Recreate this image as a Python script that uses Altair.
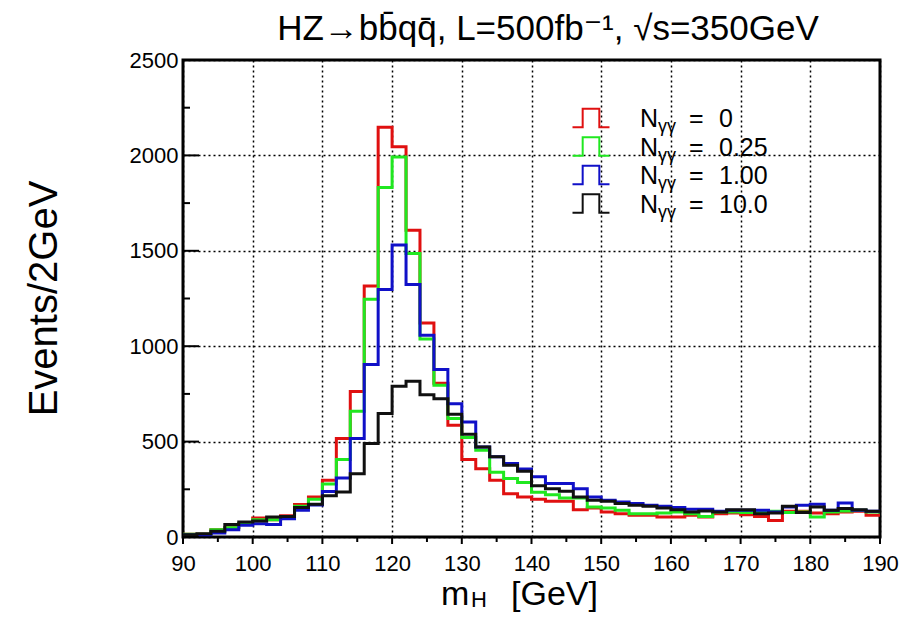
import altair as alt
import pandas as pd

# ---------------- data (Events / 2 GeV, bins of 2 GeV from 90 to 190) ----------------
BIN_LOW = list(range(90, 190, 2))
UPPER_EDGE = 190

N_0 = [14, 14, 38, 49, 70, 100, 91, 112, 170, 210, 297, 516, 762, 1316, 2148, 2045, 1608, 1122, 806, 586,
       406, 358, 297, 227, 210, 198, 187, 187, 143, 152, 131, 122, 114, 114, 105, 105, 114, 105, 122, 126,
       117, 108, 87, 135, 135, 126, 122, 131, 135, 114]
N_025 = [14, 14, 38, 49, 70, 91, 91, 108, 161, 198, 278, 406, 659, 1246, 1832, 1992, 1486, 1038, 795, 621,
         521, 455, 339, 306, 285, 235, 222, 205, 205, 157, 152, 140, 122, 122, 126, 131, 122, 108, 131, 131,
         128, 128, 135, 128, 131, 105, 131, 136, 140, 131]
N_100 = [10, 12, 21, 38, 61, 70, 65, 96, 140, 168, 238, 309, 516, 904, 1297, 1530, 1323, 1058, 878, 699,
         603, 472, 420, 385, 356, 316, 280, 280, 253, 210, 192, 184, 175, 166, 161, 154, 145, 145, 135, 140,
         140, 140, 131, 157, 166, 171, 140, 178, 140, 135]
N_100x = [12, 17, 30, 66, 79, 84, 105, 108, 154, 172, 216, 236, 332, 490, 647, 790, 816, 745, 725, 643,
          538, 472, 420, 376, 345, 268, 253, 240, 210, 192, 187, 175, 166, 161, 152, 143, 131, 136, 131, 143,
          143, 122, 126, 161, 128, 157, 140, 149, 143, 135]

SERIES_LABELS = ["0", "0.25", "1.00", "10.0"]
SERIES_VALUES = [N_0, N_025, N_100, N_100x]
SERIES_COLORS = ["#e01010", "#20e820", "#1010c8", "#101010"]

X_LABEL_VALUES = [90, 100, 110, 120, 130, 140, 150, 160, 170, 180, 190]
X_TICKS_MINOR = [95, 105, 115, 125, 135, 145, 155, 165, 175, 185]
Y_LABEL_VALUES = [0, 500, 1000, 1500, 2000, 2500]
Y_TICKS_MINOR = [250, 750, 1250, 1750, 2250]

TITLE = "HZ\u2192bb\u0304qq\u0304, L=500fb\u207b\u00b9, \u221as=350GeV"

W, H = 697, 477
FONT = "Liberation Sans"

xs = alt.Scale(domain=[90, 190], nice=False, zero=False)
ys = alt.Scale(domain=[0, 2500], nice=False)
AX_X = alt.Axis(values=X_LABEL_VALUES, grid=True, title=None, labelPadding=16, format="d",
                labelFlush=False, labelOverlap=False)
AX_Y = alt.Axis(values=Y_LABEL_VALUES, grid=True, title=None, labelPadding=5, format="d",
                labelFlush=False, labelOverlap=False)


def X(f):
    return alt.X(f, scale=xs, axis=AX_X)


def Y(f):
    return alt.Y(f, scale=ys, axis=AX_Y)


layers = []

# histograms as steps
for vals, col in zip(SERIES_VALUES, SERIES_COLORS):
    df = pd.DataFrame({"m": BIN_LOW + [UPPER_EDGE], "n": vals + [vals[-1]]})
    layers.append(
        alt.Chart(df).mark_line(interpolate="step-after", color=col, strokeWidth=3).encode(
            x=X("m:Q"), y=Y("n:Q"))
    )

# inward y ticks
layers.append(alt.Chart(pd.DataFrame({"n": Y_LABEL_VALUES})).mark_rule(color="black", strokeWidth=2).encode(
    y=Y("n:Q"), x=alt.value(0), x2=alt.value(16)))
layers.append(alt.Chart(pd.DataFrame({"n": Y_TICKS_MINOR})).mark_rule(color="black", strokeWidth=2).encode(
    y=Y("n:Q"), x=alt.value(0), x2=alt.value(7)))
# outward x ticks
layers.append(alt.Chart(pd.DataFrame({"m": X_LABEL_VALUES})).mark_rule(color="black", strokeWidth=2).encode(
    x=X("m:Q"), y=alt.value(H), y2=alt.value(H + 7)))
layers.append(alt.Chart(pd.DataFrame({"m": X_TICKS_MINOR})).mark_rule(color="black", strokeWidth=2).encode(
    x=X("m:Q"), y=alt.value(H), y2=alt.value(H + 5)))


def text_layer(txt, x, y, size, align="left", angle=0, baseline="alphabetic", font=FONT):
    kw = dict(fontSize=size, font=font, color="black", align=align, baseline=baseline)
    if angle:
        kw["angle"] = angle
    return alt.Chart(pd.DataFrame({"t": [txt]})).mark_text(**kw).encode(
        text="t:N", x=alt.value(x), y=alt.value(y))


# title
layers.append(text_layer(TITLE, 365, -20, 35, align="center", font="Liberation Sans, DejaVu Sans"))
# y title
layers.append(text_layer("Events/2GeV", -138, H / 2, 40, align="center", angle=270, baseline="middle"))
# x title  m_H [GeV]
layers.append(text_layer("m", 258, 545, 34))
layers.append(text_layer("H", 288, 547, 22))
layers.append(text_layer("[GeV]", 328, 545, 34))

# legend
SYMBOL = "M-1,0.5L-0.45,0.5L-0.45,-0.5L0.45,-0.5L0.45,0.5L1,0.5"
for i, (lab, col) in enumerate(zip(SERIES_LABELS, SERIES_COLORS)):
    cy = 58 + 28.5 * i
    layers.append(alt.Chart(pd.DataFrame({"t": [lab]})).mark_point(
        shape=SYMBOL, size=1369, filled=False, stroke=col, strokeWidth=2, opacity=1).encode(
        x=alt.value(408), y=alt.value(cy)))
    layers.append(text_layer("N", 457, cy + 9, 25))
    layers.append(text_layer("\u03b3\u03b3", 475, cy + 14, 18))
    layers.append(text_layer("=", 506, cy + 9, 25))
    layers.append(text_layer(lab, 536, cy + 9, 25))

chart = alt.layer(*layers).properties(
    width=W, height=H,
    autosize=alt.AutoSizeParams(type="none"),
    padding={"left": 175, "top": 52, "right": 30, "bottom": 75},
).configure_view(stroke="black", strokeWidth=3).configure_axis(
    labelFont=FONT, labelFontSize=22, labelColor="black",
    gridColor="black", gridDash=[2, 3], gridWidth=1.5, gridOpacity=1,
    ticks=False, domain=False,
)

chart.save("out.html", embed_options={"renderer": "svg", "actions": False})
